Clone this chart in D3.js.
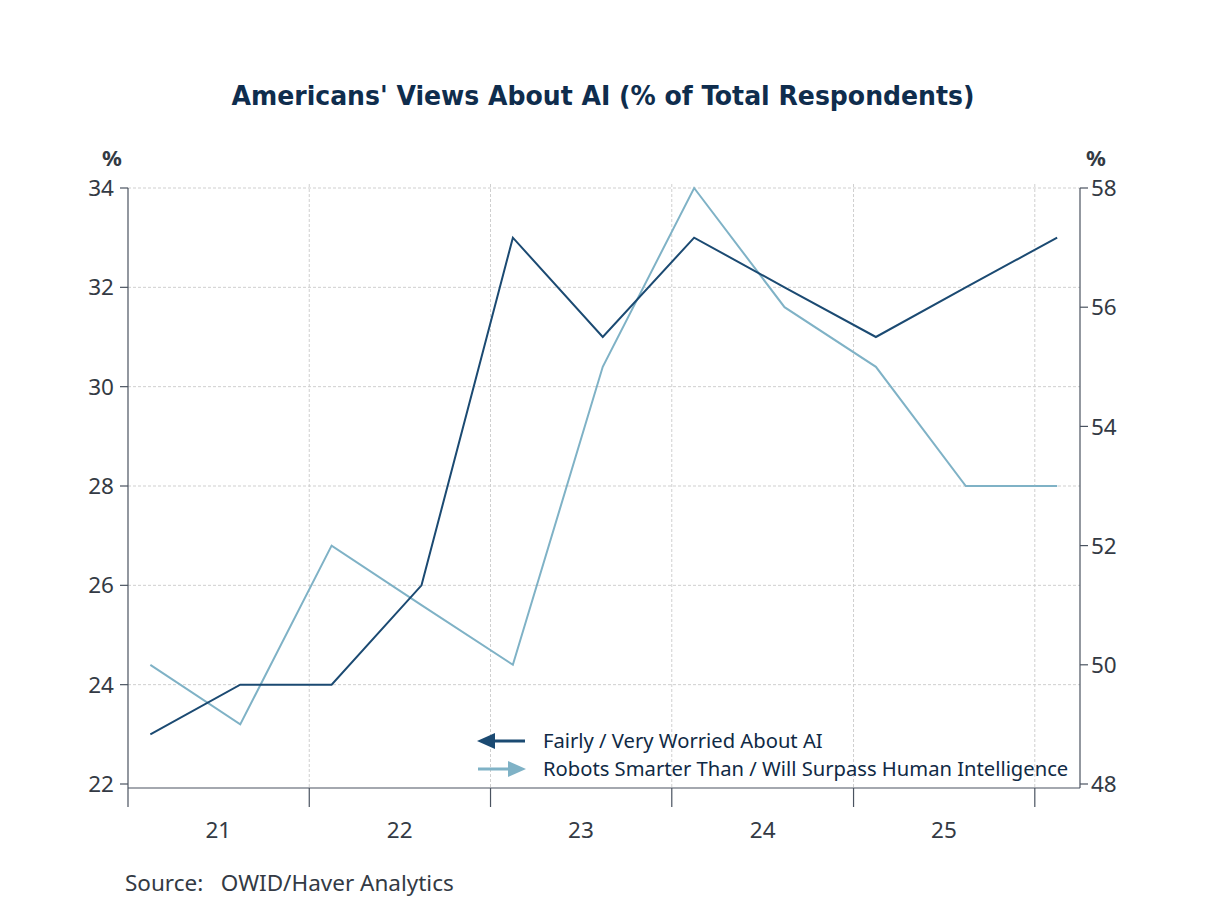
<!DOCTYPE html>
<html><head><meta charset="utf-8">
<script src="https://cdn.jsdelivr.net/npm/d3@7"></script>
<style>body{margin:0;background:#fff}svg{display:block}</style>
</head><body>
<svg id="c" width="1208" height="906"></svg>
<script>
const dates = ["2021-02-15","2021-08-15","2022-02-15","2022-08-15","2023-02-15","2023-08-15","2024-02-15","2024-08-15","2025-02-15","2025-08-15","2026-02-15"];
const worried = [23,24,24,26,33,31,33,32,31,32,33];
const smarter = [50,49,52,51,50,55,58,56,55,53,53];
const leftTicks = [22,24,26,28,30,32,34];
const rightTicks = [48,50,52,54,56,58];
const yearLabels = ["21","22","23","24","25"];
const seriesNames = ["Fairly / Very Worried About AI","Robots Smarter Than / Will Surpass Human Intelligence"];
const colors = ["#1b4a72","#7fb2c6"];

const svg = d3.select("#c");
const L=128, R=1080, T=188, B=784, AX=788;
const parse = d3.timeParse("%Y-%m-%d");
const x = d3.scaleTime().domain([new Date(2021,0,1), new Date(2026,3,2)]).range([L,R]);
const yL = d3.scaleLinear().domain([22,34]).range([B,T]);
const yR = d3.scaleLinear().domain([48,58]).range([B,T]);
const font = "'Noto Sans', 'Open Sans', sans-serif";
const txt = "#333a44";

// title
svg.append("text").attr("x",603).attr("y",105).attr("text-anchor","middle")
  .attr("font-family","'DejaVu Sans Condensed','DejaVu Sans',sans-serif").attr("font-weight","bold")
  .attr("font-size",27).attr("fill","#0f2d4d").attr("textLength",743).attr("lengthAdjust","spacingAndGlyphs")
  .text("Americans' Views About AI (% of Total Respondents)");

// grid
const years = d3.range(2021,2027).map(y=>new Date(y,0,1));
svg.append("g").selectAll("line").data(leftTicks.filter(d=>d>22)).join("line")
  .attr("x1",L).attr("x2",R).attr("y1",d=>yL(d)).attr("y2",d=>yL(d))
  .attr("stroke","#cfcfcf").attr("stroke-width",1).attr("stroke-dasharray","3,2");
svg.append("g").selectAll("line").data(years.slice(1)).join("line")
  .attr("x1",d=>x(d)).attr("x2",d=>x(d)).attr("y1",T-4).attr("y2",AX)
  .attr("stroke","#cfcfcf").attr("stroke-width",1).attr("stroke-dasharray","3,2");

// axes
const ax = svg.append("g").attr("stroke","#4a5360").attr("stroke-width",1.2);
ax.append("line").attr("x1",L).attr("x2",L).attr("y1",T).attr("y2",807);
ax.append("line").attr("x1",R).attr("x2",R).attr("y1",T).attr("y2",AX);
ax.append("line").attr("x1",L).attr("x2",R).attr("y1",AX).attr("y2",AX);
ax.selectAll(".tl").data(leftTicks).join("line").attr("x1",L-8).attr("x2",L).attr("y1",d=>yL(d)).attr("y2",d=>yL(d));
ax.selectAll(".tr").data(rightTicks).join("line").attr("class","tr").attr("x1",R).attr("x2",R+8).attr("y1",d=>yR(d)).attr("y2",d=>yR(d));
ax.selectAll(".tx").data(years.slice(1)).join("line").attr("class","tx").attr("x1",d=>x(d)).attr("x2",d=>x(d)).attr("y1",AX).attr("y2",807);

svg.append("g").selectAll("text").data(leftTicks).join("text")
  .attr("x",114).attr("y",d=>yL(d)).attr("dy","0.36em").attr("text-anchor","end")
  .attr("font-family",font).attr("font-size",22.5).attr("fill",txt).text(d=>d);
svg.append("g").selectAll("text").data(rightTicks).join("text")
  .attr("x",1091).attr("y",d=>yR(d)).attr("dy","0.36em").attr("text-anchor","start")
  .attr("font-family",font).attr("font-size",22.5).attr("fill",txt).text(d=>d);
svg.append("g").selectAll("text").data(yearLabels).join("text")
  .attr("x",(d,i)=>x(new Date(2021+i,6,2))).attr("y",838).attr("text-anchor","middle")
  .attr("font-family",font).attr("font-size",22.5).attr("fill",txt).text(d=>d);
svg.append("text").attr("x",112).attr("y",166).attr("text-anchor","middle").attr("font-family",font)
  .attr("font-weight","bold").attr("font-size",22).attr("fill",txt).text("%");
svg.append("text").attr("x",1096).attr("y",166).attr("text-anchor","middle").attr("font-family",font)
  .attr("font-weight","bold").attr("font-size",22).attr("fill",txt).text("%");

// lines
const d1 = dates.map((d,i)=>({x:parse(d),y:worried[i]}));
const d2 = dates.map((d,i)=>({x:parse(d),y:smarter[i]}));
svg.append("path").datum(d2).attr("fill","none").attr("stroke",colors[1]).attr("stroke-width",2)
  .attr("d",d3.line().x(d=>x(d.x)).y(d=>yR(d.y)));
svg.append("path").datum(d1).attr("fill","none").attr("stroke",colors[0]).attr("stroke-width",2)
  .attr("d",d3.line().x(d=>x(d.x)).y(d=>yL(d.y)));

// legend
const lg = svg.append("g");
[0,1].forEach(i=>{
  const yy = 741 + i*28;
  lg.append("line").attr("x1",i?478:490).attr("x2",i?512:525).attr("y1",yy).attr("y2",yy)
    .attr("stroke",colors[i]).attr("stroke-width",3);
  const pts = i ? [[526,yy],[508,yy-8],[508,yy+8]] : [[477,yy],[495,yy-8],[495,yy+8]];
  lg.append("polygon").attr("points",pts.map(p=>p.join(",")).join(" ")).attr("fill",colors[i]);
  lg.append("text").attr("x",543).attr("y",yy).attr("dy","0.35em")
    .attr("font-family",font).attr("font-size",20.2).attr("fill","#102a45").text(seriesNames[i]);
});

svg.append("text").attr("x",125).attr("y",891).attr("font-family",font).attr("font-size",22.5).attr("fill",txt)
  .attr("xml:space","preserve").text("Source:   OWID/Haver Analytics");
</script>
</body></html>
